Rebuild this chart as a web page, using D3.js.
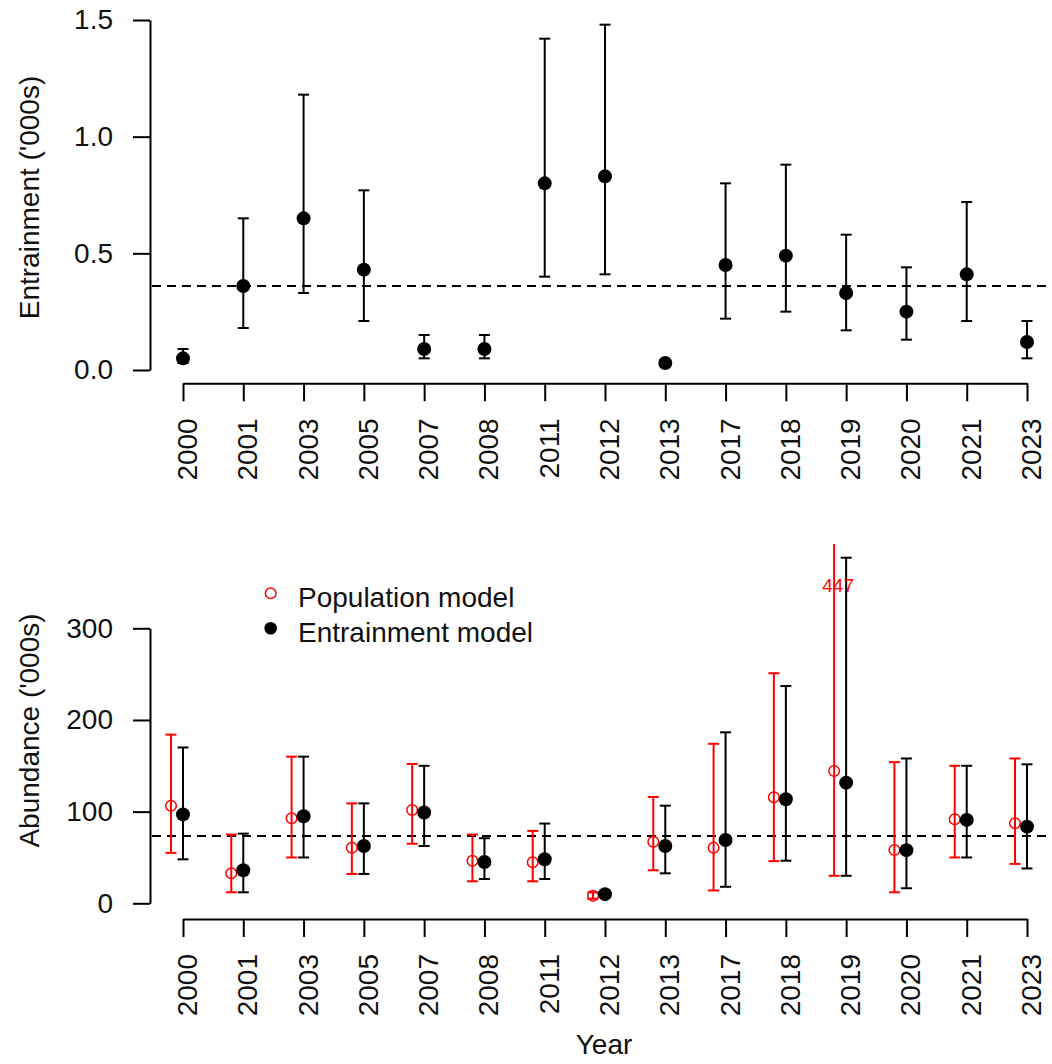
<!DOCTYPE html>
<html>
<head>
<meta charset="utf-8">
<script src="https://cdn.jsdelivr.net/npm/d3@7"></script>
<style>
  html, body { margin: 0; padding: 0; background: #fff; }
  svg { display: block; font-family: "Liberation Sans", Arial, sans-serif; }
</style>
</head>
<body>
<svg id="chart" width="1052" height="1064"></svg>
<script>
// --------------------------------------------
// DONNEES
// --------------------------------------------
const years = ["2000", "2001", "2003", "2005", "2007", "2008", "2011", "2012",
  "2013", "2017", "2018", "2019", "2020", "2021", "2023"];

// panneau du haut : entrainment ('000s)
const entrainEst = [0.05, 0.36, 0.65, 0.43, 0.09, 0.09, 0.80, 0.83, 0.03, 0.45, 0.49, 0.33, 0.25, 0.41, 0.12];
const entrainLo = [0.03, 0.18, 0.33, 0.21, 0.05, 0.05, 0.40, 0.41, 0.02, 0.22, 0.25, 0.17, 0.13, 0.21, 0.05];
const entrainHi = [0.09, 0.65, 1.18, 0.77, 0.15, 0.15, 1.42, 1.48, 0.04, 0.80, 0.88, 0.58, 0.44, 0.72, 0.21];
const entrainMean = 0.36;
const entrainTicks = [0, 0.5, 1.0, 1.5];

// panneau du bas : abundance ('000s)
const popEst = [106.5, 32.7, 92.7, 60.7, 101.8, 46.5, 44.7, 8.3, 67.2, 60.7, 115.6, 144.3, 58.1, 91.6, 87.3];
const popLo = [55, 12, 50, 32, 65, 24, 24, 5, 36, 14, 46, 30, 12, 50, 43];
const popHi = [184, 75, 160, 109, 152, 75, 79, 12, 116, 174, 251, 447, 154, 150, 158];
const entModEst = [97, 36, 95, 62.5, 99, 45, 48, 10, 62.5, 69, 113.5, 131.6, 58, 91, 83.6];
const entModLo = [48, 12, 50, 32, 62.5, 26.5, 26.5, 7, 32.7, 18, 46.5, 30, 16.4, 50, 38];
const entModHi = [170, 76, 160, 109, 150, 71, 87, 13, 106.5, 186.5, 237, 377, 158, 150, 151.6];
const abundMean = 73.4;
const abundTicks = [0, 100, 200, 300];
const offLabel = { year: "2019", text: "447" };

const legendLabels = ["Population model", "Entrainment model"];

// --------------------------------------------
// ECHELLES
// --------------------------------------------
const svg = d3.select("#chart");
const FONT = 28;

const x = d3.scalePoint().domain(years).range([183, 1027]);
const yTop = d3.scaleLinear().domain([0, 1.5]).range([370, 20]);
const yBot = d3.scaleLinear().domain([0, 300]).range([903.3, 628.3]);
const redShift = -12;

// --------------------------------------------
// FONCTIONS OUTILS
// --------------------------------------------
const drawYAxis = (scale, ticks, fmt) => {
  const g = svg.append("g")
    .attr("transform", "translate(150,0)")
    .call(d3.axisLeft(scale).tickValues(ticks).tickFormat(fmt)
      .tickSize(17).tickSizeOuter(0).tickPadding(20));
  g.select(".domain").attr("stroke", "#000").attr("stroke-width", 2);
  g.selectAll(".tick line").attr("stroke", "#000").attr("stroke-width", 2);
  g.selectAll("text").attr("font-size", FONT).attr("fill", "#111")
    .attr("font-family", "Liberation Sans, Arial, sans-serif");
  return g;
};

const drawXAxis = (yPos) => {
  const g = svg.append("g")
    .attr("transform", `translate(0,${yPos})`)
    .call(d3.axisBottom(x).tickSize(18).tickSizeOuter(0));
  g.select(".domain").attr("stroke", "#000").attr("stroke-width", 2);
  g.selectAll(".tick line").attr("stroke", "#000").attr("stroke-width", 2);
  // labels verticaux (las = 2)
  g.selectAll("text")
    .attr("transform", "rotate(-90)")
    .attr("text-anchor", "end")
    .attr("x", -35)
    .attr("y", 13.5)
    .attr("dy", 0)
    .attr("font-size", FONT)
    .attr("fill", "#111")
    .attr("font-family", "Liberation Sans, Arial, sans-serif");
  return g;
};

const drawMeanLine = (g, yPx) => {
  g.append("line")
    .attr("x1", 152).attr("x2", 1052)
    .attr("y1", yPx).attr("y2", yPx)
    .attr("stroke", "#000")
    .attr("stroke-width", 2)
    .attr("stroke-dasharray", "9,6");
};

const drawErrBars = (g, lo, hi, scale, color, shift) => {
  const bars = g.append("g").selectAll("g")
    .data(years.map((yr, i) => ({ yr, lo: lo[i], hi: hi[i] })))
    .enter()
    .append("g")
    .attr("stroke", color)
    .attr("stroke-width", 2);
  const cx = (d) => x(d.yr) + shift;
  bars.append("line")
    .attr("x1", cx).attr("x2", cx)
    .attr("y1", (d) => scale(d.lo)).attr("y2", (d) => scale(d.hi));
  bars.append("line")
    .attr("x1", (d) => cx(d) - 5.5).attr("x2", (d) => cx(d) + 5.5)
    .attr("y1", (d) => scale(d.lo)).attr("y2", (d) => scale(d.lo));
  bars.append("line")
    .attr("x1", (d) => cx(d) - 5.5).attr("x2", (d) => cx(d) + 5.5)
    .attr("y1", (d) => scale(d.hi)).attr("y2", (d) => scale(d.hi));
};

const drawDots = (g, est, scale, shift, filled) => {
  g.append("g").selectAll("circle")
    .data(years.map((yr, i) => ({ yr, v: est[i] })))
    .enter()
    .append("circle")
    .attr("cx", (d) => x(d.yr) + shift)
    .attr("cy", (d) => scale(d.v))
    .attr("r", filled ? 7 : 5.3)
    .attr("fill", filled ? "#000" : "none")
    .attr("stroke", filled ? "none" : "#ff0000")
    .attr("stroke-width", 1.5);
};

// --------------------------------------------
// PANNEAU DU HAUT
// --------------------------------------------
const topPanel = svg.append("g");
drawMeanLine(topPanel, yTop(entrainMean));
drawErrBars(topPanel, entrainLo, entrainHi, yTop, "#000", 0);
drawDots(topPanel, entrainEst, yTop, 0, true);
drawYAxis(yTop, entrainTicks, d3.format(".1f"));
drawXAxis(383.3);

svg.append("text")
  .attr("transform", "translate(39,197.5) rotate(-90)")
  .attr("text-anchor", "middle")
  .attr("font-size", FONT)
  .attr("fill", "#111")
  .text("Entrainment ('000s)");

// --------------------------------------------
// PANNEAU DU BAS
// --------------------------------------------
svg.append("clipPath").attr("id", "clip-bot")
  .append("rect").attr("x", 150).attr("y", 544).attr("width", 902).attr("height", 380);

const botPanel = svg.append("g").attr("clip-path", "url(#clip-bot)");
drawMeanLine(botPanel, yBot(abundMean));
drawErrBars(botPanel, popLo, popHi, yBot, "#ff0000", redShift);
drawErrBars(botPanel, entModLo, entModHi, yBot, "#000", 0);
drawDots(botPanel, popEst, yBot, redShift, false);
drawDots(botPanel, entModEst, yBot, 0, true);

// valeur hors cadre
svg.append("text")
  .attr("x", x(offLabel.year) - 8)
  .attr("y", 591.5)
  .attr("text-anchor", "middle")
  .attr("font-size", 19)
  .attr("fill", "#ff0000")
  .text(offLabel.text);

drawYAxis(yBot, abundTicks, d3.format("d"));
drawXAxis(919);

svg.append("text")
  .attr("transform", "translate(39,730.5) rotate(-90)")
  .attr("text-anchor", "middle")
  .attr("font-size", FONT)
  .attr("fill", "#111")
  .text("Abundance ('000s)");

svg.append("text")
  .attr("x", 604)
  .attr("y", 1054)
  .attr("text-anchor", "middle")
  .attr("font-size", FONT)
  .attr("fill", "#111")
  .text("Year");

// --------------------------------------------
// LEGENDE
// --------------------------------------------
const legend = svg.append("g");
const legendY = [593.3, 628.3];
legend.append("circle")
  .attr("cx", 270.7).attr("cy", legendY[0]).attr("r", 5.3)
  .attr("fill", "none").attr("stroke", "#ff0000").attr("stroke-width", 1.5);
legend.append("circle")
  .attr("cx", 270.7).attr("cy", legendY[1]).attr("r", 6.3)
  .attr("fill", "#000");
legend.selectAll("text")
  .data(legendLabels)
  .enter()
  .append("text")
  .attr("x", 298)
  .attr("y", (d, i) => legendY[i] + 13.5)
  .attr("font-size", FONT)
  .attr("fill", "#111")
  .text((d) => d);
</script>
</body>
</html>
